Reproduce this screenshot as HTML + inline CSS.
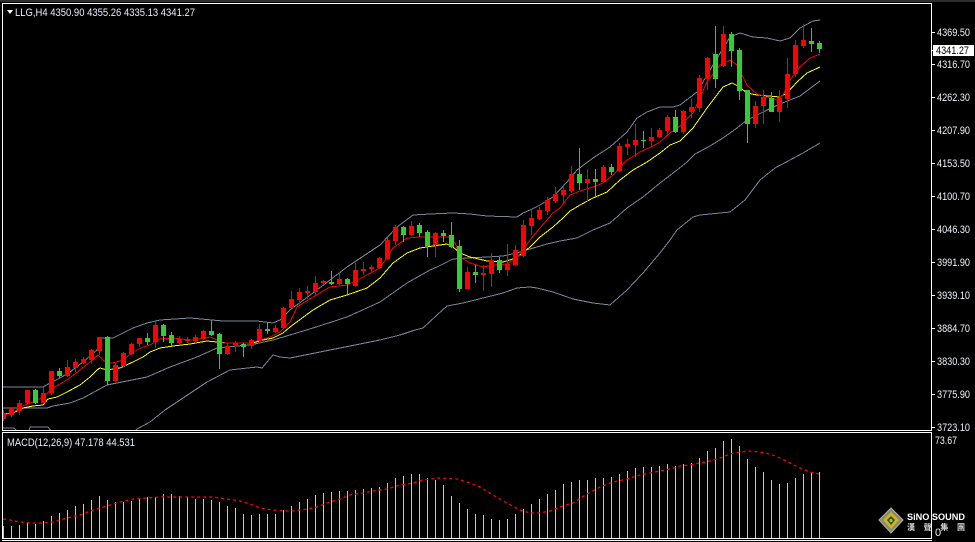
<!DOCTYPE html>
<html><head><meta charset="utf-8"><style>
html,body{margin:0;padding:0;background:#000;overflow:hidden}
svg{display:block}
text{font-family:"Liberation Sans","Noto Sans CJK TC",sans-serif}
</style></head><body>
<svg width="975" height="542" viewBox="0 0 975 542" xmlns="http://www.w3.org/2000/svg">
<rect x="0" y="0" width="975" height="542" fill="#000"/>
<rect x="0" y="0" width="975" height="2" fill="#2e2e2e"/>
<defs>
<clipPath id="mc"><rect x="3" y="4" width="928" height="426"/></clipPath>
<clipPath id="dc"><rect x="3" y="433" width="928" height="105"/></clipPath>
</defs>

<path fill="#fff" shape-rendering="crispEdges" d="M2 3h930v1H2zM2 3h1v428H2zM931 3h1v428h-1zM2 430h930v1H2zM2 432h930v1H2zM2 432h1v107H2zM931 432h1v107h-1zM2 538h930v1H2zM2 540h930v1H2z"/>

<g clip-path="url(#mc)" fill="none" stroke-width="1" shape-rendering="crispEdges">
<polyline stroke="#778899" points="3,387 43,387 50,383 60,378 70,372 83,362 97,350 100,338 113,338 133,328 147,323 160,320 190,318 223,321 257,321 273,323 280,320 290,310 313,293 347,267 380,245 397,227 413,215 430,214 453,213 470,214 487,216 517,217 523,213 530,210 540,205 553,197 567,182 577,170 593,158 610,147 627,132 637,118 647,112 660,107 673,107 680,105 697,92 713,65 730,37 740,33 753,37 767,38 780,41 790,38 800,28 813,21 820,20"/>
<polyline stroke="#778899" points="3,408 47,408 53,406 70,403 83,398 107,385 147,377 170,367 197,357 217,348 237,346 250,345 273,340 290,335 313,328 347,317 380,302 407,283 430,270 437,267 453,259 467,258 487,257 503,256 517,253 530,249 547,244 560,241 577,238 593,230 610,223 627,208 643,197 660,183 677,170 687,162 695,154 710,146 723,138 737,128 747,120 763,112 780,104 800,96 820,81"/>
<polyline stroke="#778899" points="3,428 14,428 20,434 28,434 30,427 48,427 55,436 130,436 137,429 150,422 165,410 180,400 207,382 230,370 257,367 262,368 267,362 273,355 280,357 290,358 320,352 350,346 380,340 400,335 415,330 423,328 437,315 447,306 463,303 487,297 503,293 517,288 530,287 537,288 553,292 573,299 593,303 610,305 627,290 643,273 660,253 670,240 677,230 693,217 700,215 730,212 745,200 760,180 775,168 790,160 803,153 820,143"/>
<polyline stroke="#ffff00" points="3,414 13,413 23,408 33,406 43,405 48,399 57,397 67,392 80,385 90,377 97,370 100,368 107,370 113,369 120,368 133,362 143,357 150,352 160,348 173,346 190,344 207,341 217,342 227,343 240,343 253,343 263,340 273,338 283,333 290,327 313,310 330,300 347,295 367,288 380,278 393,263 407,253 420,248 433,246 447,244 453,247 460,253 470,257 487,261 503,262 513,259 520,255 530,247 540,237 553,227 563,218 570,211 580,205 593,198 607,192 620,180 633,170 647,162 660,153 670,145 680,141 693,128 707,108 723,87 732,83 738,86 747,93 757,95 780,97 787,93 797,82 807,73 820,67"/>
<polyline stroke="#ff0000" points="3,415 13,413 20,407 33,402 43,397 53,388 67,380 80,370 90,362 98,355 103,360 107,363 113,363 123,360 133,352 143,347 150,345 160,339 173,338 190,340 200,339 210,337 217,340 223,343 237,343 250,343 260,340 270,337 280,332 290,322 297,307 313,297 330,287 347,285 367,275 380,268 393,248 407,238 420,237 450,237 455,243 460,257 470,263 483,267 493,265 507,264 517,258 523,250 530,240 540,228 553,213 560,208 570,195 580,191 593,187 603,183 613,175 627,160 640,152 653,146 660,142 670,133 680,126 693,113 707,82 720,65 730,60 737,65 747,85 757,94 767,97 777,100 783,95 790,80 800,67 810,58 820,54"/>
</g>

<g clip-path="url(#mc)" shape-rendering="crispEdges">
<path fill="none" stroke="#ff0000" stroke-width="1" d="M3.5 410v11M11.5 407v10M19.5 400v15M27.5 390v15M43.5 387v17M51.5 371v24M67.5 360v17M75.5 359v13M83.5 357v7M91.5 349v15M99.5 337v18M115.5 363v19M123.5 352v15M131.5 343v12M139.5 338v9M155.5 321v27M179.5 336v8M187.5 337v6M195.5 335v8M203.5 330v10M227.5 343v12M235.5 341v11M251.5 339v10M259.5 324v18M275.5 325v8M283.5 307v22M291.5 291v19M299.5 288v18M307.5 286v13M315.5 276v19M323.5 280v5M339.5 272v13M355.5 263v24M363.5 262v13M371.5 265v7M379.5 257v12M387.5 238v22M395.5 225v20M411.5 221v15M435.5 232v25M467.5 267v22M483.5 265v26M491.5 253v34M507.5 244v32M515.5 245v21M523.5 220v37M531.5 210v25M539.5 207v13M547.5 197v18M555.5 187v16M563.5 186v17M571.5 166v27M587.5 169v33M603.5 165v18M619.5 143v29M627.5 139v16M635.5 124v33M651.5 128v18M659.5 128v10M667.5 115v21M683.5 110v24M691.5 99v19M699.5 75v37M707.5 57v33M723.5 26v41M755.5 101v27M763.5 90v34M779.5 90v32M787.5 58v50M795.5 40v37M803.5 24v24"/>
<path fill="#ff0000" d="M1 413h5v6h-5zM9 408h5v7h-5zM17 403h5v8h-5zM25 390h5v13h-5zM41 393h5v10h-5zM49 371h5v22h-5zM65 367h5v9h-5zM73 362h5v6h-5zM81 359h5v4h-5zM89 350h5v10h-5zM97 337h5v14h-5zM113 365h5v16h-5zM121 353h5v13h-5zM129 344h5v10h-5zM137 338h5v6h-5zM153 325h5v17h-5zM177 339h5v4h-5zM185 339h5v2h-5zM193 337h5v4h-5zM201 331h5v8h-5zM225 346h5v8h-5zM233 343h5v2h-5zM249 340h5v6h-5zM257 329h5v12h-5zM273 328h5v4h-5zM281 308h5v20h-5zM289 299h5v9h-5zM297 292h5v8h-5zM305 291h5v2h-5zM313 283h5v9h-5zM321 281h5v2h-5zM337 279h5v5h-5zM353 270h5v16h-5zM361 269h5v2h-5zM369 267h5v2h-5zM377 258h5v10h-5zM385 240h5v19h-5zM393 227h5v14h-5zM409 226h5v9h-5zM433 233h5v12h-5zM465 272h5v17h-5zM481 273h5v2h-5zM489 260h5v14h-5zM505 264h5v6h-5zM513 250h5v15h-5zM521 225h5v31h-5zM529 218h5v8h-5zM537 210h5v9h-5zM545 200h5v11h-5zM553 194h5v7h-5zM561 190h5v5h-5zM569 174h5v17h-5zM585 179h5v4h-5zM601 167h5v15h-5zM617 146h5v25h-5zM625 144h5v3h-5zM633 140h5v5h-5zM649 137h5v4h-5zM657 130h5v7h-5zM665 117h5v14h-5zM681 111h5v21h-5zM689 107h5v5h-5zM697 78h5v30h-5zM705 58h5v21h-5zM721 34h5v32h-5zM753 106h5v18h-5zM761 97h5v9h-5zM777 98h5v14h-5zM785 74h5v25h-5zM793 45h5v29h-5zM801 40h5v6h-5z"/>
<path fill="none" stroke="#32cd32" stroke-width="1" d="M35.5 389v15M59.5 368v10M107.5 336v49M147.5 333v12M163.5 324v18M171.5 332v14M211.5 320v16M219.5 333v36M243.5 343v14M267.5 323v11M331.5 271v14M347.5 278v16M403.5 226v16M419.5 223v14M427.5 230v27M443.5 230v12M451.5 222v26M459.5 240v52M475.5 265v18M499.5 257v16M579.5 148v42M595.5 169v29M611.5 164v11M643.5 131v17M675.5 110v23M715.5 26v62M731.5 32v35M739.5 48v52M747.5 90v53M771.5 92v20M811.5 28v24M819.5 41v12"/>
<path fill="#32cd32" d="M33 390h5v13h-5zM57 371h5v5h-5zM105 337h5v44h-5zM145 338h5v4h-5zM161 325h5v11h-5zM169 335h5v8h-5zM209 331h5v4h-5zM217 334h5v20h-5zM241 344h5v3h-5zM265 329h5v2h-5zM329 282h5v2h-5zM345 279h5v5h-5zM401 227h5v8h-5zM417 225h5v8h-5zM425 232h5v14h-5zM441 233h5v3h-5zM449 235h5v12h-5zM457 246h5v43h-5zM473 272h5v3h-5zM497 260h5v10h-5zM577 174h5v9h-5zM593 179h5v3h-5zM609 167h5v5h-5zM641 140h5v1h-5zM673 117h5v15h-5zM713 54h5v25h-5zM729 34h5v17h-5zM737 50h5v41h-5zM745 90h5v34h-5zM769 98h5v14h-5zM809 41h5v3h-5zM817 43h5v6h-5z"/>
</g>

<path fill="#fff" shape-rendering="crispEdges" d="M931 32h4v1h-4zM931 64h4v1h-4zM931 97h4v1h-4zM931 130h4v1h-4zM931 163h4v1h-4zM931 196h4v1h-4zM931 229h4v1h-4zM931 262h4v1h-4zM931 295h4v1h-4zM931 328h4v1h-4zM931 361h4v1h-4zM931 394h4v1h-4zM931 427h4v1h-4z"/>
<g fill="#eef2f8" font-size="11">
<text x="937" y="36" textLength="33" lengthAdjust="spacingAndGlyphs">4369.50</text>
<text x="937" y="68" textLength="33" lengthAdjust="spacingAndGlyphs">4316.70</text>
<text x="937" y="101" textLength="33" lengthAdjust="spacingAndGlyphs">4262.30</text>
<text x="937" y="134" textLength="33" lengthAdjust="spacingAndGlyphs">4207.90</text>
<text x="937" y="167" textLength="33" lengthAdjust="spacingAndGlyphs">4153.50</text>
<text x="937" y="200" textLength="33" lengthAdjust="spacingAndGlyphs">4100.70</text>
<text x="937" y="233" textLength="33" lengthAdjust="spacingAndGlyphs">4046.30</text>
<text x="937" y="266" textLength="33" lengthAdjust="spacingAndGlyphs">3991.90</text>
<text x="937" y="299" textLength="33" lengthAdjust="spacingAndGlyphs">3939.10</text>
<text x="937" y="332" textLength="33" lengthAdjust="spacingAndGlyphs">3884.70</text>
<text x="937" y="365" textLength="33" lengthAdjust="spacingAndGlyphs">3830.30</text>
<text x="937" y="398" textLength="33" lengthAdjust="spacingAndGlyphs">3775.90</text>
<text x="937" y="431" textLength="33" lengthAdjust="spacingAndGlyphs">3723.10</text>
<text x="935" y="444" textLength="22" lengthAdjust="spacingAndGlyphs">73.67</text>
<text x="935" y="536">0</text>
</g>
<rect x="933" y="45" width="41" height="11" fill="#fff" shape-rendering="crispEdges"/>
<rect x="931" y="50" width="2" height="1" fill="#fff"/>
<text x="936" y="54" font-size="11" fill="#000" textLength="33" lengthAdjust="spacingAndGlyphs">4341.27</text>

<polygon points="7,10 13,10 10,14" fill="#fff"/>
<text x="15" y="16" font-size="11" fill="#e6eef8" textLength="180" lengthAdjust="spacingAndGlyphs">LLG,H4  4350.90 4355.26 4335.13 4341.27</text>

<path clip-path="url(#dc)" fill="none" stroke="#c8c8c8" stroke-width="1" shape-rendering="crispEdges" d="M3.5 526V538M11.5 526V538M19.5 525V538M27.5 523V538M35.5 524V538M43.5 521V538M51.5 516V538M59.5 513V538M67.5 510V538M75.5 506V538M83.5 504V538M91.5 500V538M99.5 496V538M107.5 500V538M115.5 502V538M123.5 502V538M131.5 501V538M139.5 499V538M147.5 497V538M155.5 497V538M163.5 494V538M171.5 494V538M179.5 496V538M187.5 497V538M195.5 499V538M203.5 499V538M211.5 500V538M219.5 502V538M227.5 506V538M235.5 508V538M243.5 514V538M251.5 515V538M259.5 514V538M267.5 514V538M275.5 514V538M283.5 510V538M291.5 506V538M299.5 502V538M307.5 499V538M315.5 495V538M323.5 493V538M331.5 492V538M339.5 491V538M347.5 491V538M355.5 490V538M363.5 489V538M371.5 488V538M379.5 487V538M387.5 483V538M395.5 478V538M403.5 476V538M411.5 474V538M419.5 474V538M427.5 478V538M435.5 480V538M443.5 485V538M451.5 496V538M459.5 503V538M467.5 509V538M475.5 514V538M483.5 515V538M491.5 519V538M499.5 520V538M507.5 519V538M515.5 514V538M523.5 509V538M531.5 504V538M539.5 499V538M547.5 494V538M555.5 490V538M563.5 484V538M571.5 482V538M579.5 480V538M587.5 480V538M595.5 478V538M603.5 478V538M611.5 477V538M619.5 474V538M627.5 471V538M635.5 468V538M643.5 467V538M651.5 467V538M659.5 466V538M667.5 464V538M675.5 466V538M683.5 464V538M691.5 463V538M699.5 458V538M707.5 451V538M715.5 448V538M723.5 441V538M731.5 439V538M739.5 446V538M747.5 459V538M755.5 467V538M763.5 472V538M771.5 480V538M779.5 484V538M787.5 483V538M795.5 478V538M803.5 474V538M811.5 472V538M819.5 472V538"/>
<polyline clip-path="url(#dc)" fill="none" stroke="#ff0000" stroke-width="1.3" stroke-dasharray="3,3" points="3,519 10,520 20,522 33,523 43,523 53,522 67,518 80,515 93,510 107,506 120,502 133,499 147,498 160,497 173,497 187,497 200,497 213,497 227,499 240,501 250,504 260,508 273,510 283,511 293,511 307,509 317,507 327,503 340,499 350,495 363,493 373,491 387,489 400,485 413,483 423,480 440,478 457,479 467,482 480,487 493,495 507,503 520,510 530,513 540,513 550,511 560,507 573,503 587,494 600,487 613,482 627,479 640,475 650,473 660,471 670,469 680,466 690,465 700,463 710,461 720,458 730,454 740,452 750,451 760,452 770,454 780,458 790,463 800,468 810,472 819,474"/>
<text x="7" y="446" font-size="11" fill="#e6eef8" textLength="128" lengthAdjust="spacingAndGlyphs">MACD(12,26,9) 47.178 44.531</text>

<polygon points="891,508 903,520 891,533 879,520" fill="#8a8a6a" stroke="#b0b0b0" stroke-width="1"/>
<polygon points="891,512 899,520 891,529 883,520" fill="#c8b428"/>
<polygon points="891,516 895,520 891,525 887,520" fill="#3a4a10"/>
<circle cx="891" cy="520.5" r="1.6" fill="#9acd32"/>
<text x="907" y="520" font-size="9.5" font-weight="bold" fill="#fff" textLength="58" lengthAdjust="spacingAndGlyphs">SiNO SOUND</text>
<text x="907" y="530" font-size="8" font-weight="bold" fill="#ddd" textLength="58" lengthAdjust="spacing">漢 聲 集 團</text>
</svg>
</body></html>
